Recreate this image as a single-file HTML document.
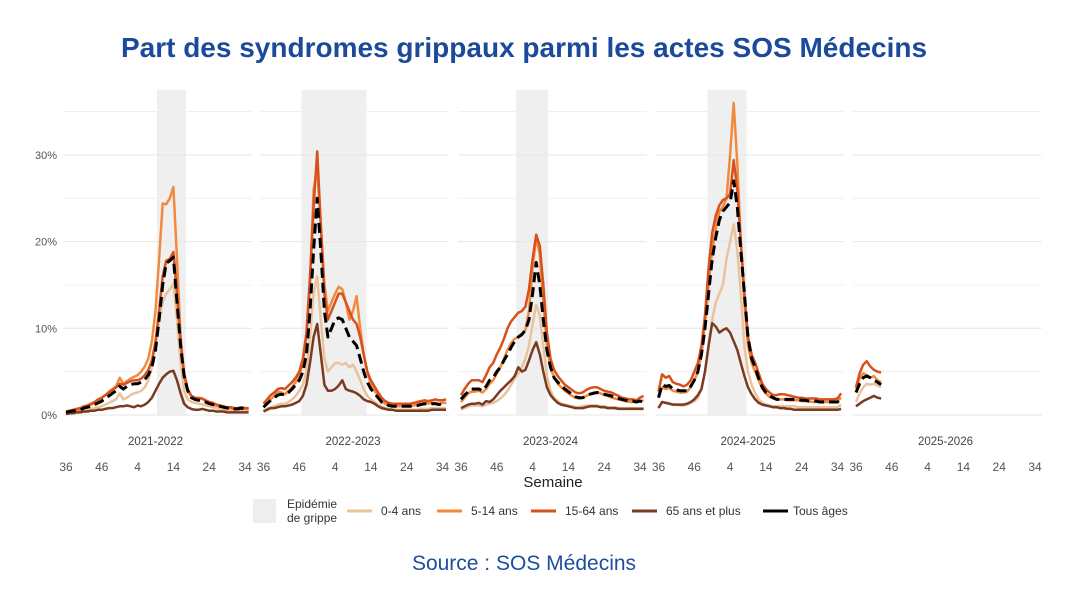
<!DOCTYPE html>
<html><head><meta charset="utf-8">
<style>
body{margin:0;background:#fff;width:1080px;height:607px;overflow:hidden;font-family:"Liberation Sans",sans-serif}
</style></head>
<body>
<svg id="chart" width="1080" height="607" xmlns="http://www.w3.org/2000/svg">
<text x="524" y="57" text-anchor="middle" font-family="Liberation Sans, sans-serif" font-weight="bold" font-size="28" fill="#1b4a9b">Part des syndromes grippaux parmi les actes SOS Médecins</text>
<g id="plot"></g>
<text x="553" y="487" text-anchor="middle" font-size="15" fill="#222">Semaine</text>
<g font-size="12" fill="#333">
<rect x="253" y="499" width="23" height="24" fill="#eeeeee"/>
<text x="287" y="508">Epidémie</text>
<text x="287" y="522">de grippe</text>
<line x1="347" y1="511" x2="372" y2="511" stroke="#eac39c" stroke-width="3"/>
<text x="381" y="515">0-4 ans</text>
<line x1="437" y1="511" x2="462" y2="511" stroke="#f28a3e" stroke-width="3"/>
<text x="471" y="515">5-14 ans</text>
<line x1="531" y1="511" x2="556" y2="511" stroke="#d8511c" stroke-width="3"/>
<text x="565" y="515">15-64 ans</text>
<line x1="632" y1="511" x2="657" y2="511" stroke="#7b3a22" stroke-width="3"/>
<text x="666" y="515">65 ans et plus</text>
<line x1="763" y1="511" x2="788" y2="511" stroke="#000" stroke-width="3"/>
<text x="793" y="515">Tous âges</text>
</g>
<text x="524" y="570" text-anchor="middle" font-size="21" fill="#1d4e9e">Source : SOS Médecins</text>
</svg>
<script>
const seasons=["2021-2022","2022-2023","2023-2024","2024-2025","2025-2026"];
const weekTicks=["36","46","4","14","24","34"];
const yTicks=[0,10,20,30];
const epidemicStart=[25.4,10.6,15.4,13.7,null];
const epidemicEnd=[33.5,28.8,24.3,24.6,null];
const s04=[
[0.2,0.2,0.3,0.3,0.4,0.5,0.6,0.7,0.8,0.9,1.0,1.2,1.4,1.6,1.8,2.5,1.8,2.0,2.3,2.5,2.6,2.8,3.2,4.0,5.5,8,11,13,14,14.5,15.2,11,6,2.8,1.8,1.5,1.4,1.3,1.2,1.1,1.0,0.9,0.8,0.7,0.6,0.6,0.5,0.5,0.5,0.5,0.5,0.5],
[0.5,0.7,0.9,1.0,1.2,1.3,1.3,1.5,1.8,2.2,2.8,3.5,5,9,14,16,11,6.5,5,5.5,6,6,5.8,6,5.5,5.8,5,4,3,2.2,1.8,1.5,1.2,1.0,0.8,0.7,0.6,0.6,0.6,0.6,0.6,0.6,0.6,0.6,0.7,0.7,0.7,0.8,0.8,0.8,0.8,0.8],
[0.6,0.8,1.0,1.1,1.1,1.1,1.0,1.2,1.3,1.4,1.6,1.9,2.3,2.8,3.5,4.2,4.8,5.5,6.5,8,10.5,12.7,11.5,8,4.5,2.8,2.0,1.6,1.3,1.2,1.1,1.0,0.9,0.9,1.0,1.1,1.1,1.1,1.1,1.0,1.0,0.9,0.9,0.9,0.8,0.8,0.8,0.8,0.8,0.8,0.8,0.8],
[0.9,1.5,1.4,1.4,1.2,1.2,1.1,1.1,1.2,1.4,1.6,2.0,3.0,5,8,11,13,14,15,18,20,22,19,14,8,5,3.5,2.5,1.8,1.4,1.2,1.1,1.0,1.0,1.0,1.0,1.0,1.0,1.0,0.9,0.9,0.9,0.9,0.9,0.9,0.9,0.9,0.9,0.9,0.9,0.9,1.2],
[1.5,2.5,3.2,3.6,3.5,3.6,3.4,3.2]];
const s514=[
[0.2,0.3,0.4,0.5,0.6,0.8,1.0,1.2,1.4,1.7,2.0,2.3,2.7,3.0,3.3,4.3,3.6,3.9,4.2,4.4,4.6,5.0,5.6,6.5,8.5,12,18,24.4,24.3,25,26.3,18,9,4.5,2.8,2.2,2.0,2.0,1.9,1.6,1.4,1.2,1.1,1.0,0.9,0.9,0.8,0.7,0.7,0.8,0.7,0.7],
[0.9,1.3,1.8,2.2,2.7,2.6,2.4,2.8,3.2,3.8,4.5,6,9,15,26,28.5,22,15,12,13,14,14.8,14.5,13,11,12,13.7,10,7,5,3.5,2.8,2.2,1.6,1.3,1.1,1.0,1.0,1.0,1.0,1.0,1.0,1.1,1.2,1.3,1.4,1.3,1.4,1.4,1.3,1.4,1.4],
[1.5,2.0,2.5,2.7,2.7,2.8,2.6,3.0,3.6,4.0,4.8,5.5,6.5,7.5,8.3,8.8,9.0,9.2,9.8,12,17,20.5,18.5,13,8,5.5,4.3,3.6,3.2,2.8,2.5,2.2,2.0,1.9,2.0,2.2,2.4,2.6,2.6,2.5,2.3,2.2,2.0,1.9,1.8,1.7,1.6,1.5,1.5,1.5,1.6,1.7],
[2.0,3.2,3.0,3.1,2.8,2.7,2.6,2.6,2.7,3.2,4.0,5.0,7,10.5,15,19,21.5,23.5,24,25,30,36,29,20,13,8,6,5,4,3,2.5,2.1,1.9,1.8,1.8,1.8,1.7,1.7,1.7,1.7,1.6,1.6,1.6,1.5,1.5,1.5,1.5,1.5,1.5,1.5,1.6,2.0],
[3.0,4.2,4.8,4.6,4.3,4.5,4.0,3.8]];
const s1564=[
[0.4,0.5,0.6,0.7,0.8,1.0,1.1,1.3,1.5,1.8,2.0,2.3,2.6,2.9,3.2,3.6,3.5,3.7,3.9,4.0,4.0,4.2,4.6,5.2,6.3,8.5,12,16,17.8,18,18.8,14,8.5,4.8,3.0,2.2,2.0,1.9,1.9,1.7,1.5,1.4,1.2,1.1,1.0,0.9,0.9,0.8,0.8,0.9,0.8,0.8],
[1.3,1.8,2.3,2.6,3.0,3.1,3.0,3.4,3.8,4.3,5.0,6.5,9.5,16,24,30.4,22,14,11,12,13,14,14,13,12,11,10.5,9,7,5,4.0,3.3,2.6,2.0,1.6,1.4,1.3,1.3,1.3,1.3,1.3,1.3,1.4,1.5,1.6,1.7,1.6,1.7,1.8,1.7,1.7,1.8],
[2.3,3.0,3.6,4.0,4.0,4.0,3.8,4.6,5.5,6.0,7.0,7.8,8.8,10,10.8,11.3,11.8,12,12.5,14.5,18,20.8,19.5,15,9.5,6.5,5.2,4.5,4.0,3.5,3.2,2.9,2.6,2.5,2.6,2.9,3.1,3.2,3.2,3.0,2.8,2.7,2.6,2.4,2.2,2.0,1.9,1.8,1.8,1.7,2.0,2.2],
[2.7,4.7,4.3,4.5,3.8,3.6,3.5,3.3,3.5,4.0,5.0,6.0,8.0,11.5,17,21,23,24.2,24.8,25,25.5,29.4,26,20,14,9,7.0,6.0,4.8,3.6,3.0,2.6,2.3,2.3,2.4,2.4,2.3,2.2,2.1,2.0,2.0,1.9,1.9,1.9,1.9,1.8,1.8,1.8,1.8,1.8,1.9,2.5],
[3.2,4.8,5.8,6.2,5.6,5.2,5.0,4.9]];
const s65=[
[0.1,0.2,0.2,0.3,0.3,0.4,0.4,0.5,0.5,0.6,0.6,0.7,0.8,0.8,0.9,1.0,1.0,1.1,1.0,0.9,1.1,1.0,1.2,1.5,2.0,2.8,3.6,4.3,4.7,5.0,5.1,4.0,2.5,1.3,0.9,0.7,0.6,0.6,0.7,0.6,0.5,0.5,0.4,0.4,0.4,0.3,0.3,0.3,0.3,0.3,0.3,0.3],
[0.4,0.6,0.8,0.8,0.9,1.0,1.0,1.1,1.2,1.4,1.6,2.2,3.5,6,9,10.5,7,3.5,2.8,2.8,3.0,3.4,4.0,3.0,2.8,2.7,2.5,2.2,1.8,1.6,1.5,1.3,1.0,0.8,0.7,0.6,0.6,0.5,0.5,0.5,0.5,0.5,0.5,0.5,0.5,0.5,0.5,0.6,0.6,0.6,0.6,0.6],
[0.8,1.0,1.2,1.3,1.3,1.4,1.2,1.6,1.5,1.8,2.3,2.8,3.2,3.6,4.0,4.5,5.5,5.0,5.2,6.3,7.5,8.4,7.0,5.0,3.2,2.3,1.8,1.4,1.2,1.1,1.0,0.9,0.8,0.8,0.8,0.9,1.0,1.0,1.0,0.9,0.9,0.8,0.8,0.8,0.7,0.7,0.7,0.7,0.7,0.7,0.7,0.7],
[0.8,1.5,1.4,1.3,1.2,1.2,1.2,1.2,1.3,1.5,1.8,2.3,3.0,5.0,8.0,10.6,10.2,9.5,9.8,10,9.5,8.5,7.5,6,4.5,3.2,2.4,1.8,1.4,1.2,1.1,1.0,0.9,0.9,0.8,0.8,0.7,0.7,0.6,0.6,0.6,0.6,0.6,0.6,0.6,0.6,0.6,0.6,0.6,0.6,0.6,0.7],
[1.0,1.3,1.6,1.8,2.0,2.2,2.0,1.9]];
const sTous=[
[0.3,0.4,0.5,0.5,0.6,0.8,0.9,1.0,1.2,1.4,1.6,1.9,2.2,2.5,2.8,3.3,3.0,3.3,3.5,3.6,3.6,3.8,4.1,4.6,5.5,7.5,11,15,17.5,17.8,18.2,13,8,4.5,2.8,2.0,1.8,1.7,1.7,1.5,1.3,1.2,1.1,1.0,0.9,0.8,0.8,0.7,0.7,0.8,0.7,0.7],
[0.9,1.3,1.7,2.0,2.3,2.4,2.3,2.6,3.0,3.5,4.0,5.0,7.0,12,19,25,19,12,9,10,11,11.2,11,10,9,8.5,8,6.5,5,3.8,3.0,2.5,2.0,1.5,1.3,1.1,1.0,1.0,1.0,1.0,1.0,1.0,1.1,1.1,1.2,1.3,1.2,1.3,1.3,1.2,1.3,1.3],
[1.8,2.3,2.7,3.0,3.0,3.0,2.8,3.3,4.0,4.3,5.0,5.5,6.3,7.0,7.8,8.5,9.0,9.3,9.8,11,14,17.6,15,11,7.5,5.5,4.3,3.8,3.4,3.0,2.7,2.4,2.1,2.0,2.0,2.2,2.4,2.5,2.6,2.5,2.4,2.3,2.2,2.0,1.9,1.8,1.7,1.6,1.6,1.5,1.6,1.5],
[2.0,3.5,3.3,3.4,3.0,2.9,2.8,2.8,2.8,3.3,4.0,5.0,7.0,10,14,18,20.5,22.5,23.5,24,24.5,27,24,19,14,9,6.5,5.5,4.2,3.2,2.6,2.2,2.0,1.8,1.8,1.8,1.8,1.8,1.8,1.8,1.7,1.7,1.6,1.6,1.6,1.5,1.5,1.5,1.5,1.5,1.5,1.8],
[2.6,3.6,4.3,4.5,4.3,4.0,3.8,3.5]];

const NS="http://www.w3.org/2000/svg";
const plot=document.getElementById('plot');
const PX0=66, PSTEP=197.5, WPX=3.58;
const xs=(p,i)=>PX0+p*PSTEP+i*WPX;
const ys=v=>415-v*8.67;
function mk(tag,attrs,parent){const e=document.createElementNS(NS,tag);for(const k in attrs)e.setAttribute(k,attrs[k]);(parent||plot).appendChild(e);return e;}

yTicks.forEach(t=>{
  const tx=mk('text',{x:57,y:ys(t)+4,'text-anchor':'end','font-size':11,fill:'#555'});
  tx.textContent=t+'%';
  
  
});

const series=[[s04,'#eac39c','series-0-4'],[s514,'#f28a3e','series-5-14'],[s1564,'#d8511c','series-15-64'],[s65,'#7b3a22','series-65-plus'],[sTous,'#000','series-tous-ages']];

seasons.forEach((s,p)=>{
  const left=xs(p,0)-3, right=xs(p,51)+3;
  if(epidemicStart[p]!==null){
    const r=mk('rect',{x:xs(p,epidemicStart[p]),y:ys(37.5),width:(epidemicEnd[p]-epidemicStart[p])*WPX,height:ys(0)-ys(37.5),fill:'#efefef'});
    
    
  }
  for(let g=0;g<=35;g+=5){
    const l=mk('line',{x1:left,x2:right,y1:ys(g),y2:ys(g),stroke:g%10===0?'#e6e6e6':'#f0f0f0','stroke-width':1});
    
    
  }
  const fl=mk('text',{x:xs(p,25),y:445,'text-anchor':'middle','font-size':11.5,fill:'#444'});
  fl.textContent=s;
  
  
  weekTicks.forEach((w,k)=>{
    const t=mk('text',{x:xs(p,k*10),y:471,'text-anchor':'middle','font-size':12,fill:'#555'});
    t.textContent=w;
    
    
  });
  series.forEach(([arr,col,name])=>{
    const vals=arr[p];
    const d=vals.map((v,i)=>(i?'L':'M')+xs(p,i).toFixed(1)+','+ys(v).toFixed(1)).join(' ');
    const attrs={d:d,fill:'none',stroke:col,'stroke-width':name==='series-tous-ages'?3:2.5,'stroke-linejoin':'round'};
    if(name==='series-tous-ages'){attrs['stroke-dasharray']='10,5';}
    const path=mk('path',attrs);
    
    
  });
});
</script>
</body></html>
